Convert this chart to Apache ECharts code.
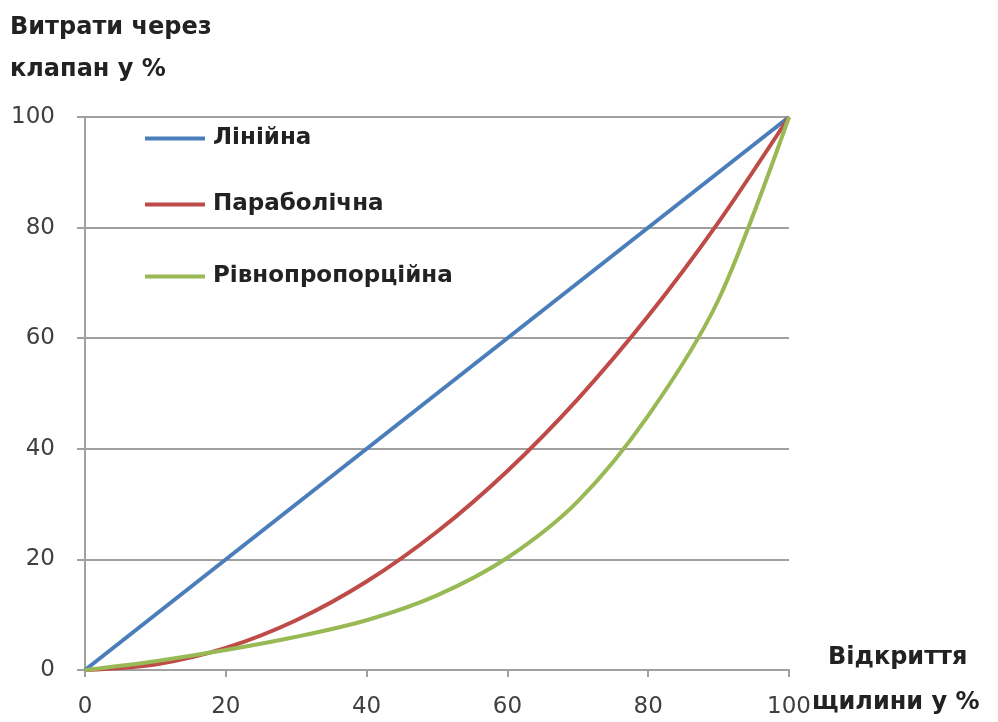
<!DOCTYPE html>
<html><head><meta charset="utf-8">
<script src="https://cdn.jsdelivr.net/npm/echarts@6/dist/echarts.min.js"></script>
<style>html,body{margin:0;padding:0;background:#fff}#c{width:998px;height:722px}</style>
</head><body><div id="c"></div>
<script>
const seriesNames = ['Лінійна', 'Параболічна', 'Рівнопропорційна'];
const linearX = [0, 100];
const linearY = [0, 100];
const parabolicX = [0, 10, 20, 30, 40, 50, 60, 70, 80, 90, 100];
const parabolicY = [0, 1, 4, 9, 16, 25, 36, 49, 64, 81, 100];
const equalX = [0, 10, 20, 30, 40, 50, 60, 70, 80, 90, 100];
const equalY = [0, 1.6, 3.6, 6, 9, 13.5, 20.3, 30.5, 46, 67, 100];
const xTicks = [0, 20, 40, 60, 80, 100];
const yTicks = [0, 20, 40, 60, 80, 100];
const yTitle = ['Витрати через', 'клапан у %'];
const xTitle = ['Відкриття', 'щилини у %'];
const colors = ['#4a7ebb', '#be4b48', '#98b954'];

const zip = (a, b) => a.map((v, i) => [v, b[i]]);
const FONT = 'DejaVu Sans';
const TFONT = 'bold 24px "DejaVu Sans"';

const chart = echarts.init(document.getElementById('c'), null, {renderer: 'canvas'});
const legendTops = [127, 193, 265];
chart.setOption({
  animation: false,
  backgroundColor: '#fff',
  grid: {left: 85, right: 209, top: 117, bottom: 52},
  xAxis: {
    type: 'value', min: xTicks[0], max: xTicks[xTicks.length - 1], interval: 20,
    axisLine: {lineStyle: {color: '#a0a0a0', width: 2}},
    axisTick: {show: true, length: 7, lineStyle: {color: '#a0a0a0', width: 2}},
    axisLabel: {color: '#404040', fontFamily: FONT, fontSize: 23, margin: 26,
      formatter: v => xTicks.includes(v) ? String(v) : ''},
    splitLine: {show: false}
  },
  yAxis: {
    type: 'value', min: yTicks[0], max: yTicks[yTicks.length - 1], interval: 20,
    axisLine: {show: true, lineStyle: {color: '#a0a0a0', width: 2}},
    axisTick: {show: true, length: 8, lineStyle: {color: '#a0a0a0', width: 2}},
    axisLabel: {color: '#404040', fontFamily: FONT, fontSize: 23, margin: 30,
      formatter: v => yTicks.includes(v) ? String(v) : ''},
    splitLine: {show: true, lineStyle: {color: '#a0a0a0', width: 2}}
  },
  legend: seriesNames.map((n, i) => ({
    data: [n], left: 145, top: legendTops[i], padding: 0,
    icon: 'rect', itemWidth: 60, itemHeight: 4, itemGap: 8,
    textStyle: {fontFamily: FONT, fontWeight: 'bold', fontSize: 23, color: '#222', padding: [0, 0, 0, 3]}
  })),
  series: [
    {name: seriesNames[0], type: 'line', data: zip(linearX, linearY), showSymbol: false,
      lineStyle: {color: colors[0], width: 4}, itemStyle: {color: colors[0]}},
    {name: seriesNames[1], type: 'line', data: zip(parabolicX, parabolicY), smooth: 0.3, showSymbol: false,
      lineStyle: {color: colors[1], width: 4}, itemStyle: {color: colors[1]}},
    {name: seriesNames[2], type: 'line', data: zip(equalX, equalY), smooth: 0.3, showSymbol: false,
      lineStyle: {color: colors[2], width: 4}, itemStyle: {color: colors[2]}}
  ],
  graphic: [
    {type: 'text', left: 10, top: 16, style: {text: yTitle[0], font: TFONT, fill: '#222'}},
    {type: 'text', left: 10, top: 58, style: {text: yTitle[1], font: TFONT, fill: '#222'}},
    {type: 'text', left: 828, top: 646, style: {text: xTitle[0], font: TFONT, fill: '#222'}},
    {type: 'text', left: 812, top: 691, style: {text: xTitle[1], font: TFONT, fill: '#222'}}
  ]
});
</script></body></html>
